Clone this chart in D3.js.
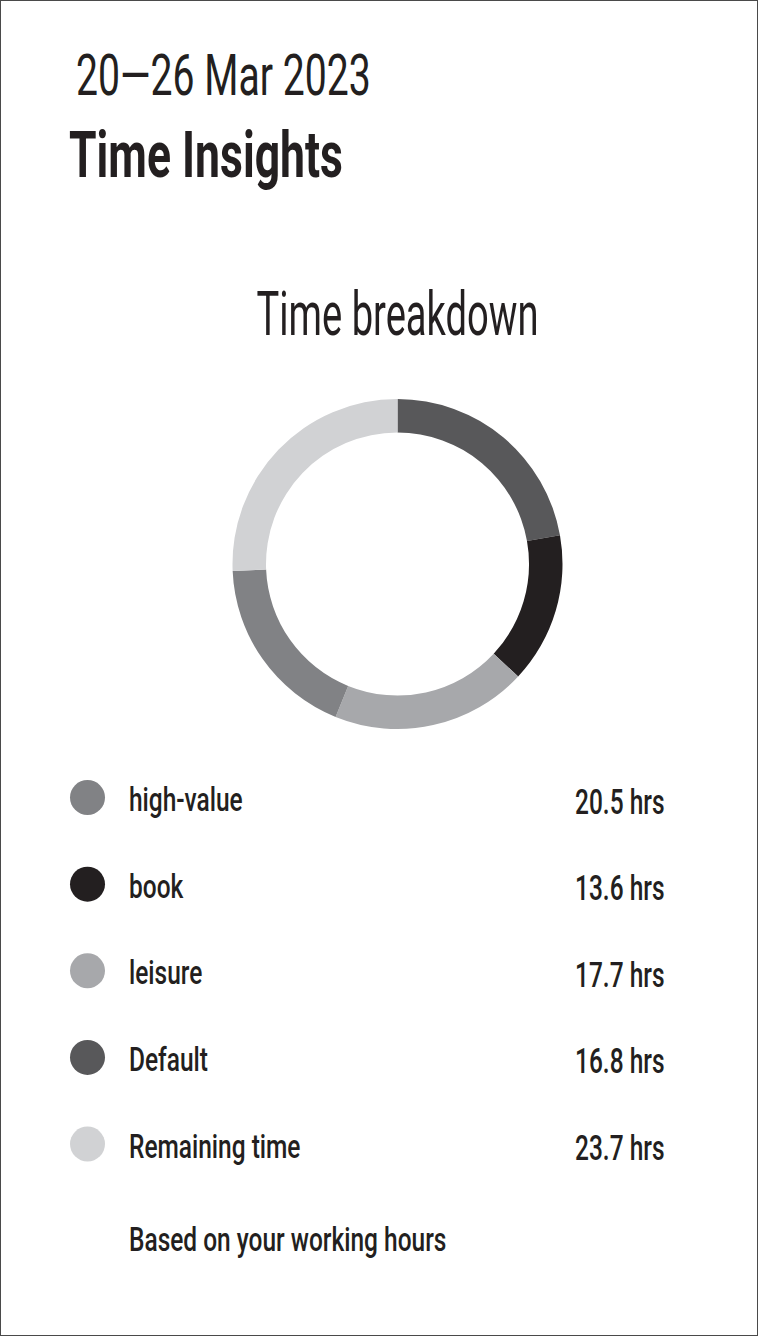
<!DOCTYPE html>
<html>
<head>
<meta charset="utf-8">
<script src="https://cdn.jsdelivr.net/npm/d3@7"></script>
<style>
html,body{margin:0;padding:0;background:#fff;}
svg{display:block;}
</style>
</head>
<body>
<script>
// ---- data ----
const dateRange = "20—26 Mar 2023";
const pageTitle = "Time Insights";
const chartTitle = "Time breakdown";
const categories = ["high-value", "book", "leisure", "Default", "Remaining time"];
const hours = [20.5, 13.6, 17.7, 16.8, 23.7];
const legendColors = ["#818285", "#231f20", "#a7a8ab", "#58585a", "#d1d2d4"];
const ringColors = ["#58585a", "#231f20", "#a7a8ab", "#818285", "#d1d2d4"];
const footnote = "Based on your working hours";
const unit = "hrs";

// ---- layout ----
const W = 758, H = 1336;
const FONT = "Roboto, 'Noto Sans', sans-serif";
const svg = d3.select("body").append("svg").attr("width", W).attr("height", H);

svg.append("rect").attr("x", 0.5).attr("y", 0.5).attr("width", W - 1).attr("height", H - 1)
  .attr("fill", "#fff").attr("stroke", "#4a4a4a").attr("stroke-width", 1);

function label(x, y, str, size, weight, sx, anchor, fill) {
  const g = svg.append("g").attr("transform", `translate(${x},${y}) scale(${sx},1)`);
  return g.append("text")
    .attr("text-anchor", anchor || "start")
    .attr("font-family", FONT)
    .attr("font-size", size)
    .attr("font-weight", weight)
    .attr("fill", fill || "#231f20")
    .text(str);
}

// header
label(76, 95, dateRange, 58, 400, 0.675);
label(69, 177, pageTitle, 65, 700, 0.685);

// donut
const cx = 397.5, cy = 564, rOut = 165, rIn = 131.5;
label(cx, 335, chartTitle, 61, 400, 0.625, "middle");

const pie = d3.pie().sort(null).value(d => d.v).startAngle(0).endAngle(2 * Math.PI);
const arc = d3.arc().innerRadius(rIn).outerRadius(rOut);
const ringData = hours.map((v, i) => ({ v, c: ringColors[i], name: categories[i] }));
svg.append("g").attr("transform", `translate(${cx},${cy})`)
  .selectAll("path").data(pie(ringData)).join("path")
  .attr("d", arc).attr("fill", d => d.data.c);

// legend
const y = d3.scalePoint().domain(categories).range([797.5, 1144]);
const leg = categories.map((c, i) => ({ c, v: hours[i], col: legendColors[i] }));
leg.forEach(d => {
  const yc = y(d.c);
  svg.append("circle").attr("cx", 87.5).attr("cy", yc).attr("r", 17.5).attr("fill", d.col);
  label(129, yc + 13.5, d.c, 34, 500, 0.72);
  label(575, yc + 16, `${d3.format(".1f")(d.v)} ${unit}`, 35, 500, 0.7);
});

label(129, y(categories[categories.length - 1]) + 107, footnote, 34, 500, 0.72);
</script>
</body>
</html>
